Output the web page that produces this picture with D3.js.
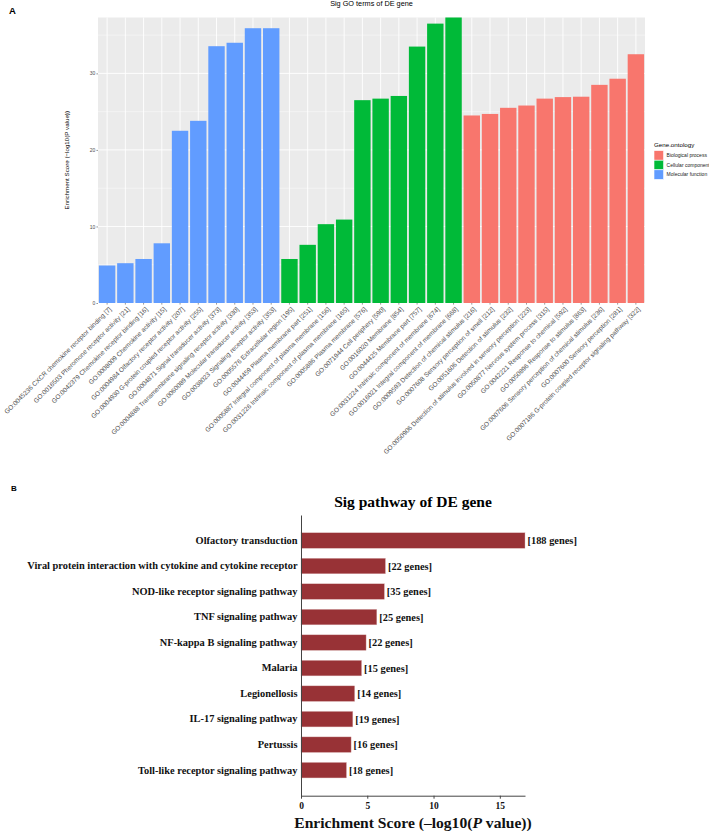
<!DOCTYPE html>
<html>
<head>
<meta charset="utf-8">
<script src="https://cdn.jsdelivr.net/npm/d3@7/dist/d3.min.js"></script>
<style>
body { margin: 0; background: #fff; }
svg { display: block; }
</style>
</head>
<body>
<script>
// ---------- Panel A data ----------
const goTerms = [
  "GO:0045236 CXCR chemokine receptor binding [7]",
  "GO:0016503 Pheromone receptor activity [21]",
  "GO:0042379 Chemokine receptor binding [16]",
  "GO:0008009 Chemokine activity [15]",
  "GO:0004984 Olfactory receptor activity [207]",
  "GO:0004930 G-protein coupled receptor activity [255]",
  "GO:0004871 Signal transducer activity [373]",
  "GO:0004888 Transmembrane signaling receptor activity [330]",
  "GO:0060089 Molecular transducer activity [353]",
  "GO:0038023 Signaling receptor activity [353]",
  "GO:0005576 Extracellular region [195]",
  "GO:0044459 Plasma membrane part [251]",
  "GO:0005887 Integral component of plasma membrane [156]",
  "GO:0031226 Intrinsic component of plasma membrane [165]",
  "GO:0005886 Plasma membrane [576]",
  "GO:0071944 Cell periphery [590]",
  "GO:0016020 Membrane [854]",
  "GO:0044425 Membrane part [757]",
  "GO:0031224 Intrinsic component of membrane [674]",
  "GO:0016021 Integral component of membrane [668]",
  "GO:0009593 Detection of chemical stimulus [216]",
  "GO:0007608 Sensory perception of smell [212]",
  "GO:0051606 Detection of stimulus [232]",
  "GO:0050906 Detection of stimulus involved in sensory perception [223]",
  "GO:0050877 Nervous system process [315]",
  "GO:0042221 Response to chemical [592]",
  "GO:0050896 Response to stimulus [863]",
  "GO:0007606 Sensory perception of chemical stimulus [236]",
  "GO:0007600 Sensory perception [281]",
  "GO:0007186 G-protein coupled receptor signaling pathway [322]"
];
const goValues = [
  4.9, 5.2, 5.75, 7.8, 22.5, 23.8, 33.55, 34.0, 35.9, 35.9,
  5.75, 7.6, 10.3, 10.9, 26.5, 26.7, 27.05, 33.5, 36.5, 37.3,
  24.5, 24.7, 25.5, 25.8, 26.7, 26.9, 26.95, 28.5, 29.3, 32.5
];
const goOntology = [
  "Molecular function","Molecular function","Molecular function","Molecular function","Molecular function",
  "Molecular function","Molecular function","Molecular function","Molecular function","Molecular function",
  "Cellular component","Cellular component","Cellular component","Cellular component","Cellular component",
  "Cellular component","Cellular component","Cellular component","Cellular component","Cellular component",
  "Biological process","Biological process","Biological process","Biological process","Biological process",
  "Biological process","Biological process","Biological process","Biological process","Biological process"
];
const ontologyLevels = ["Biological process", "Cellular component", "Molecular function"];
const ontologyColors = ["#F8766D", "#00BA38", "#619CFF"];
const goYTicks = [0, 10, 20, 30];
const goYMinor = [5, 15, 25, 35];

// ---------- Panel B data ----------
const pathways = [
  "Olfactory transduction",
  "Viral protein interaction with cytokine and cytokine receptor",
  "NOD-like receptor signaling pathway",
  "TNF signaling pathway",
  "NF-kappa B signaling pathway",
  "Malaria",
  "Legionellosis",
  "IL-17 signaling pathway",
  "Pertussis",
  "Toll-like receptor signaling pathway"
];
const pathwayScores = [16.9, 6.37, 6.29, 5.72, 4.91, 4.57, 4.05, 3.91, 3.78, 3.43];
const pathwayGenes = [188, 22, 35, 25, 22, 15, 14, 19, 16, 18];
const pathwayXTicks = [0, 5, 10, 15];

const W = 709, H = 831;
const svg = d3.select("body").append("svg").attr("width", W).attr("height", H);

// ================= Panel A =================
const sans = "'Liberation Sans', Arial, sans-serif";
const A = { left: 98, right: 645, top: 17.5, bottom: 303 };
const goData = goTerms.map((t, i) => ({ term: t, value: goValues[i], ont: goOntology[i] }));

const xA = d3.scaleBand().domain(goTerms).range([A.left, A.right]).paddingInner(0.1).paddingOuter(0.05);
const yA = d3.scaleLinear().domain([0, d3.max(goValues)]).range([A.bottom, A.top]);
const colorA = d3.scaleOrdinal().domain(ontologyLevels).range(ontologyColors);

svg.append("text").attr("x", 9).attr("y", 14).attr("font-family", sans)
  .attr("font-weight", "bold").attr("font-size", 9.5).text("A");

svg.append("rect").attr("x", A.left).attr("y", A.top)
  .attr("width", A.right - A.left).attr("height", A.bottom - A.top).attr("fill", "#EBEBEB");

const gridA = svg.append("g");
gridA.selectAll("line.minor").data(goYMinor.filter(v => v <= d3.max(goValues))).join("line")
  .attr("x1", A.left).attr("x2", A.right).attr("y1", d => yA(d)).attr("y2", d => yA(d))
  .attr("stroke", "#fff").attr("stroke-width", 0.45);
gridA.selectAll("line.major").data(goYTicks).join("line")
  .attr("x1", A.left).attr("x2", A.right).attr("y1", d => yA(d)).attr("y2", d => yA(d))
  .attr("stroke", "#fff").attr("stroke-width", 0.9);
gridA.selectAll("line.vert").data(goTerms).join("line")
  .attr("x1", d => xA(d) + xA.bandwidth() / 2).attr("x2", d => xA(d) + xA.bandwidth() / 2)
  .attr("y1", A.top).attr("y2", A.bottom)
  .attr("stroke", "#fff").attr("stroke-width", 0.9);

svg.append("g").selectAll("rect").data(goData).join("rect")
  .attr("x", d => xA(d.term)).attr("width", xA.bandwidth())
  .attr("y", d => yA(d.value)).attr("height", d => yA(0) - yA(d.value))
  .attr("fill", d => colorA(d.ont));

const yAxisA = svg.append("g").attr("transform", `translate(${A.left},0)`)
  .call(d3.axisLeft(yA).tickValues(goYTicks).tickSize(1.6).tickPadding(1.2));
yAxisA.select(".domain").remove();
yAxisA.selectAll(".tick line").attr("stroke", "#333").attr("stroke-width", 0.5);
yAxisA.selectAll(".tick text").attr("font-family", sans).attr("font-size", 5).attr("fill", "#4d4d4d");

const xAxisA = svg.append("g").attr("transform", `translate(0,${A.bottom})`)
  .call(d3.axisBottom(xA).tickSize(1.6));
xAxisA.select(".domain").remove();
xAxisA.selectAll(".tick line").attr("stroke", "#333").attr("stroke-width", 0.5);
xAxisA.selectAll(".tick text")
  .attr("font-family", sans).attr("font-size", 6.5).attr("fill", "#4d4d4d")
  .attr("text-anchor", "end").attr("x", 0).attr("y", 0).attr("dy", "0.35em")
  .attr("transform", "translate(3,5) rotate(-45)");

svg.append("text").attr("x", (A.left + A.right) / 2).attr("y", 6.3)
  .attr("text-anchor", "middle").attr("font-family", sans).attr("font-size", 7.3)
  .text("Sig GO terms of DE gene");

svg.append("text").attr("transform", `translate(66.7,${(A.top + A.bottom) / 2}) rotate(-90)`)
  .attr("text-anchor", "middle").attr("dy", "0.35em").attr("font-family", sans).attr("font-size", 6.2)
  .text("Enrichment Score (\u2212log10(P value))");

// legend
const leg = svg.append("g").attr("transform", "translate(654,0)");
leg.append("text").attr("x", 0).attr("y", 146.7).attr("font-family", sans).attr("font-size", 6.2)
  .text("Gene.ontology");
const keyH = 9.6;
ontologyLevels.forEach((lvl, i) => {
  leg.append("rect").attr("x", 0).attr("y", 150.6 + i * keyH).attr("width", keyH).attr("height", keyH)
    .attr("fill", colorA(lvl)).attr("stroke", "#fff").attr("stroke-width", 0.6);
  leg.append("text").attr("x", 12.6).attr("y", 150.6 + i * keyH + keyH / 2).attr("dy", "0.35em")
    .attr("font-family", sans).attr("font-size", 5).attr("fill", "#222").text(lvl);
});

// ================= Panel B =================
const serif = "'Liberation Serif', 'Times New Roman', serif";
const B = { left: 301, right: 525, top: 515, bottom: 795.7 };
const pwData = pathways.map((p, i) => ({ name: p, score: pathwayScores[i], genes: pathwayGenes[i] }));

const yB = d3.scaleBand().domain(pathways).range([B.top, B.bottom]).paddingInner(0.392).paddingOuter(0.696);
const xB = d3.scaleLinear().domain([0, d3.max(pathwayScores)]).range([B.left, B.right]);

svg.append("text").attr("x", 11).attr("y", 490.5).attr("font-family", sans)
  .attr("font-weight", "bold").attr("font-size", 8).text("B");

svg.append("text").attr("x", (B.left + B.right) / 2).attr("y", 507)
  .attr("text-anchor", "middle").attr("font-family", serif).attr("font-weight", "bold")
  .attr("font-size", 15.5).text("Sig pathway of DE gene");

svg.append("g").selectAll("rect").data(pwData).join("rect")
  .attr("x", xB(0)).attr("y", d => yB(d.name))
  .attr("width", d => xB(d.score) - xB(0)).attr("height", yB.bandwidth())
  .attr("fill", "#983236").attr("stroke", "#d9b3b3").attr("stroke-width", 0.4);

svg.append("g").selectAll("text").data(pwData).join("text")
  .attr("x", d => xB(d.score) + 2.5).attr("y", d => yB(d.name) + yB.bandwidth() / 2)
  .attr("dy", "0.35em").attr("font-family", serif).attr("font-weight", "bold").attr("font-size", 10.4)
  .attr("fill", "#111").text(d => `[${d.genes} genes]`);

const yAxisB = svg.append("g").attr("transform", `translate(${B.left},0)`)
  .call(d3.axisLeft(yB).tickSize(0).tickPadding(3.5));
yAxisB.select(".domain").attr("stroke", "#444").attr("stroke-width", 1);
yAxisB.selectAll(".tick text").attr("font-family", serif).attr("font-weight", "bold")
  .attr("font-size", 10.4).attr("fill", "#111");

const xAxisB = svg.append("g").attr("transform", `translate(0,${B.bottom})`)
  .call(d3.axisBottom(xB).tickValues(pathwayXTicks).tickSizeInner(3).tickSizeOuter(0).tickPadding(3.2));
xAxisB.select(".domain").attr("stroke", "#444").attr("stroke-width", 1);
xAxisB.selectAll(".tick line").attr("stroke", "#444");
xAxisB.selectAll(".tick text").attr("font-family", serif).attr("font-weight", "bold")
  .attr("font-size", 9.5).attr("fill", "#111");

const xt = svg.append("text").attr("x", (B.left + B.right) / 2).attr("y", 827.5)
  .attr("text-anchor", "middle").attr("font-family", serif).attr("font-weight", "bold")
  .attr("font-size", 15.6).attr("fill", "#111");
xt.append("tspan").text("Enrichment Score (\u2013log10(");
xt.append("tspan").attr("font-style", "italic").text("P");
xt.append("tspan").text(" value))");
</script>
</body>
</html>
